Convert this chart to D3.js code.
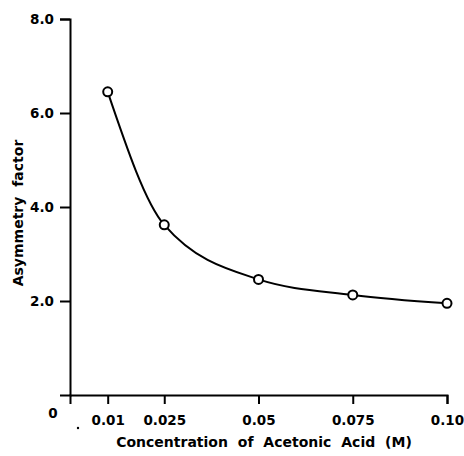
<!DOCTYPE html>
<html>
<head>
<meta charset="utf-8">
<script src="https://cdn.jsdelivr.net/npm/d3@7"></script>
<style>
  body { margin: 0; background: #fff; }
  text { font-family: "DejaVu Sans", sans-serif; font-weight: bold; fill: #000; }
</style>
</head>
<body>
<div id="chart"></div>
<script>
// Asymmetry factor vs acid concentration
const concentrations = [0.01, 0.025, 0.05, 0.075, 0.10];
const asymmetry = [6.45, 3.62, 2.46, 2.13, 1.95];
const xTicks = [0.01, 0.025, 0.05, 0.075, 0.10];
const xTickLabels = ["0.01", "0.025", "0.05", "0.075", "0.10"];
const yTicks = [2, 4, 6, 8];

function drawChart() {
    const width = 464, height = 456;
    const svg = d3.select("#chart").append("svg")
        .attr("width", width)
        .attr("height", height);

    const x = d3.scaleLinear().domain([0, 0.10]).range([70, 447]);
    const y = d3.scaleLinear().domain([0, 8]).range([395, 19]);

    // y axis
    const gy = svg.append("g")
        .attr("transform", "translate(" + x(0) + ",0)")
        .call(d3.axisLeft(y).tickValues(yTicks).tickSizeOuter(0).tickSize(10)
            .tickFormat(d3.format(".1f")).tickPadding(6));
    gy.select(".domain").attr("stroke-width", 2);
    gy.selectAll(".tick line").attr("stroke-width", 2);
    gy.selectAll(".tick text").style("font-size", "13.5px");

    // x axis
    const gx = svg.append("g")
        .attr("transform", "translate(0," + y(0) + ")")
        .call(d3.axisBottom(x).tickValues(xTicks).tickSizeOuter(0).tickSize(9)
            .tickFormat((d, i) => xTickLabels[i]).tickPadding(11));
    gx.select(".domain").attr("stroke-width", 2);
    gx.selectAll(".tick line").attr("stroke-width", 2);
    gx.selectAll(".tick text").style("font-size", "13.5px");

    // origin label
    svg.append("text")
        .attr("x", 53).attr("y", 418)
        .attr("text-anchor", "middle")
        .style("font-size", "13.5px")
        .text("0");

    // stray dot on the original scan
    svg.append("circle")
        .attr("cx", 78).attr("cy", 428).attr("r", 1.2)
        .attr("fill", "#000");

    // axis titles
    svg.append("text")
        .attr("x", 264).attr("y", 447)
        .attr("text-anchor", "middle")
        .style("font-size", "14px")
        .style("word-spacing", "5px")
        .text("Concentration of Acetonic Acid (M)");

    svg.append("text")
        .attr("transform", "translate(23,213) rotate(-90)")
        .attr("text-anchor", "middle")
        .style("font-size", "14px")
        .style("word-spacing", "5px")
        .text("Asymmetry factor");

    // fitted curve
    const points = concentrations.map((c, i) => [c, asymmetry[i]]);
    svg.append("path")
        .datum(points)
        .attr("fill", "none")
        .attr("stroke", "#000")
        .attr("stroke-width", 2)
        .attr("d", d3.line().x(d => x(d[0])).y(d => y(d[1])).curve(d3.curveMonotoneX));

    svg.selectAll(".pt")
        .data(points)
        .join("circle")
        .attr("class", "pt")
        .attr("cx", d => x(d[0]))
        .attr("cy", d => y(d[1]))
        .attr("r", 4.5)
        .attr("fill", "#fff")
        .attr("stroke", "#000")
        .attr("stroke-width", 2);
}
drawChart();
</script>
</body>
</html>
